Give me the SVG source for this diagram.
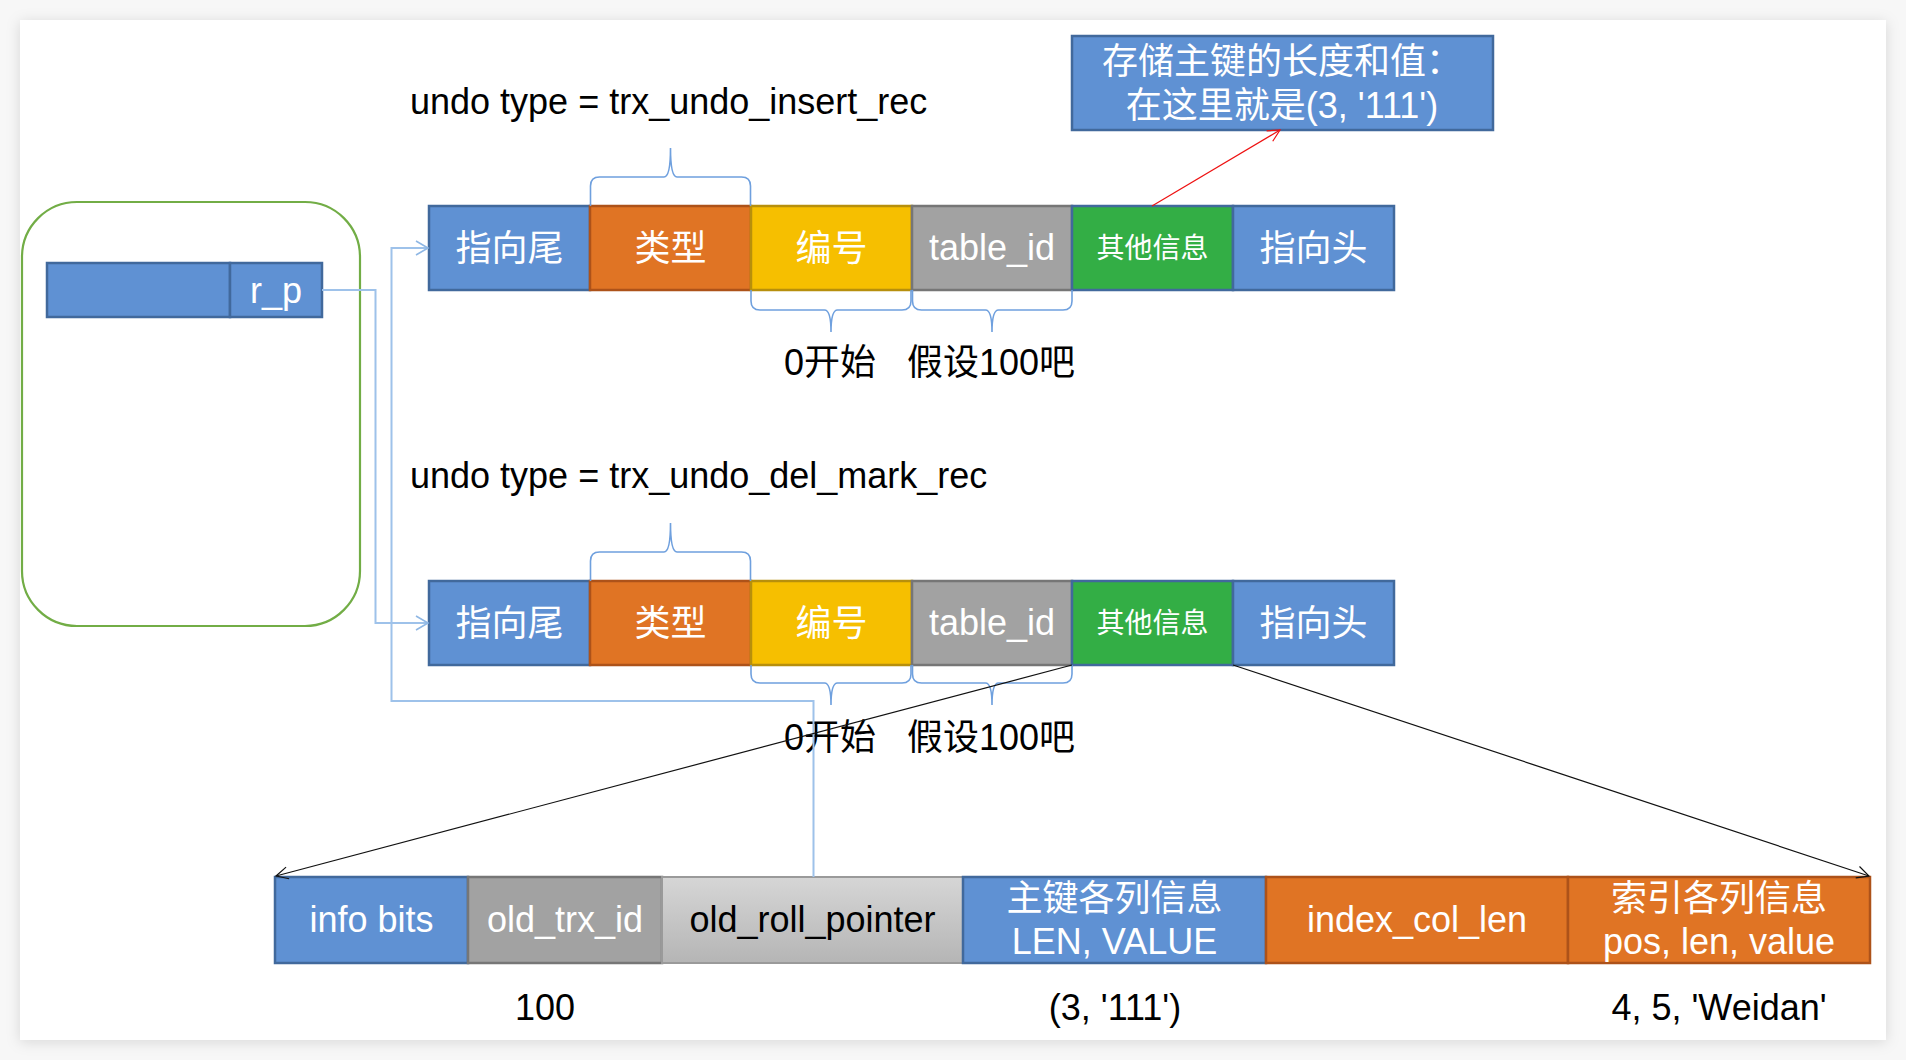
<svg xmlns="http://www.w3.org/2000/svg" width="1906" height="1060" viewBox="0 0 1906 1060">
<defs>
<filter id="shadow" x="-5%" y="-5%" width="110%" height="110%">
<feDropShadow dx="0" dy="2" stdDeviation="7" flood-color="#000" flood-opacity="0.13"/>
</filter>
<linearGradient id="grayGrad" x1="0" y1="0" x2="0" y2="1">
<stop offset="0" stop-color="#d6d6d6"/>
<stop offset="1" stop-color="#b5b5b5"/>
</linearGradient>
<marker id="arrBlue" markerUnits="userSpaceOnUse" markerWidth="16" markerHeight="16" refX="13" refY="8" orient="auto">
<path d="M1,1 L13,8 L1,15" fill="none" stroke="#8fb7e4" stroke-width="1.6"/>
</marker>
<marker id="arrRed" markerUnits="userSpaceOnUse" markerWidth="16" markerHeight="16" refX="13" refY="8" orient="auto">
<path d="M1,2 L13,8 L1,14" fill="none" stroke="#ee1111" stroke-width="1.2"/>
</marker>
<marker id="arrBlack" markerUnits="userSpaceOnUse" markerWidth="16" markerHeight="16" refX="13" refY="8" orient="auto">
<path d="M1,2 L13,8 L1,14" fill="none" stroke="#111" stroke-width="1.2"/>
</marker>
<style>
text{font-family:"Liberation Sans","Noto Sans CJK SC",sans-serif;}
.w{fill:#ffffff;font-size:36px;text-anchor:middle;}
.ws{fill:#ffffff;font-size:28px;text-anchor:middle;}
.k{fill:#000000;font-size:36px;}
.kc{fill:#000000;font-size:36px;text-anchor:middle;}
.blue{fill:#5f91d3;stroke:#41699c;stroke-width:2.5;}
.orange{fill:#e07424;stroke:#ad5219;stroke-width:2.5;}
.yellow{fill:#f6bf00;stroke:#b78f0c;stroke-width:2.5;}
.gray{fill:#a2a2a2;stroke:#767676;stroke-width:2.5;}
.green{fill:#33ae45;stroke:#41699c;stroke-width:2.5;}
.lgray{fill:url(#grayGrad);stroke:#9a9a9a;stroke-width:2;}
.brace{fill:none;stroke:#6fa0de;stroke-width:1.6;}
.conn{fill:none;stroke:#9ec2ea;stroke-width:2;}
</style>
</defs>
<rect x="0" y="0" width="1906" height="1060" fill="#f7f7f7"/>
<rect x="20" y="20" width="1866" height="1020" fill="#ffffff" filter="url(#shadow)"/>

<g id="container">
<rect x="22" y="202" width="338" height="424" rx="55" ry="55" fill="none" stroke="#72ad46" stroke-width="2.2"/>
</g>
<g id="rp-bar">
<rect class="blue" x="47" y="263" width="183" height="54"/>
<rect class="blue" x="230" y="263" width="92" height="54"/>
<text class="w" x="276" y="303">r_p</text>
</g>

<g id="row1-title"><text class="k" x="410" y="114">undo type = trx_undo_insert_rec</text></g>
<g id="row1">
<rect class="blue" x="429" y="206" width="161" height="84"/>
<rect class="orange" x="590" y="206" width="161" height="84"/>
<rect class="yellow" x="751" y="206" width="161" height="84"/>
<rect class="gray" x="912" y="206" width="160" height="84"/>
<rect class="green" x="1072" y="206" width="161" height="84"/>
<rect class="blue" x="1233" y="206" width="161" height="84"/>
<text class="w" x="509.5" y="261">指向尾</text>
<text class="w" x="670.5" y="261">类型</text>
<text class="w" x="831.5" y="261">编号</text>
<text class="w" x="992" y="260">table_id</text>
<text class="ws" x="1152.5" y="258">其他信息</text>
<text class="w" x="1313.5" y="261">指向头</text>
</g>
<g id="row1-braces">
<path class="brace" d="M590.5,206 L590.5,186 Q590.5,177 599.5,177 L664,177 Q670.5,177 670.5,148 Q670.5,177 677,177 L741.5,177 Q750.5,177 750.5,186 L750.5,206"/>
<path class="brace" d="M751,290 L751,301 Q751,310 760,310 L824.5,310 Q831,310 831,332 Q831,310 837.5,310 L902,310 Q911,310 911,301 L911,290"/>
<path class="brace" d="M912.5,290 L912.5,301 Q912.5,310 921.5,310 L985.5,310 Q992,310 992,332 Q992,310 998.5,310 L1063,310 Q1072,310 1072,301 L1072,290"/>
</g>
<g id="row1-labels">
<text class="kc" x="830" y="375">0开始</text>
<text class="kc" x="991" y="375">假设100吧</text>
</g>

<g id="callout">
<rect class="blue" x="1072" y="36" width="421" height="94"/>
<text class="w" x="1282" y="74">存储主键的长度和值：</text>
<text class="w" x="1282" y="118">在这里就是(3, '111')</text>
</g>

<g id="row2-title"><text class="k" x="410" y="488">undo type = trx_undo_del_mark_rec</text></g>
<g id="row2" transform="translate(0,375)">
<rect class="blue" x="429" y="206" width="161" height="84"/>
<rect class="orange" x="590" y="206" width="161" height="84"/>
<rect class="yellow" x="751" y="206" width="161" height="84"/>
<rect class="gray" x="912" y="206" width="160" height="84"/>
<rect class="green" x="1072" y="206" width="161" height="84"/>
<rect class="blue" x="1233" y="206" width="161" height="84"/>
<text class="w" x="509.5" y="261">指向尾</text>
<text class="w" x="670.5" y="261">类型</text>
<text class="w" x="831.5" y="261">编号</text>
<text class="w" x="992" y="260">table_id</text>
<text class="ws" x="1152.5" y="258">其他信息</text>
<text class="w" x="1313.5" y="261">指向头</text>
</g>
<g id="row2-braces" transform="translate(0,375)">
<path class="brace" d="M590.5,206 L590.5,186 Q590.5,177 599.5,177 L664,177 Q670.5,177 670.5,148 Q670.5,177 677,177 L741.5,177 Q750.5,177 750.5,186 L750.5,206"/>
<path class="brace" d="M751,290 L751,299 Q751,308 760,308 L824.5,308 Q831,308 831,330 Q831,308 837.5,308 L902,308 Q911,308 911,299 L911,290"/>
<path class="brace" d="M912.5,290 L912.5,299 Q912.5,308 921.5,308 L985.5,308 Q992,308 992,330 Q992,308 998.5,308 L1063,308 Q1072,308 1072,299 L1072,290"/>
</g>
<g id="row2-labels">
<text class="kc" x="830" y="750">0开始</text>
<text class="kc" x="991" y="750">假设100吧</text>
</g>

<g id="record">
<rect class="blue" x="275" y="877" width="193" height="86"/>
<rect class="gray" x="468" y="877" width="194" height="86"/>
<rect class="lgray" x="662" y="877" width="301" height="86"/>
<rect class="blue" x="963" y="877" width="303" height="86"/>
<rect class="orange" x="1266" y="877" width="302" height="86"/>
<rect class="orange" x="1568" y="877" width="302" height="86"/>
<text class="w" x="371.5" y="932">info bits</text>
<text class="w" x="565" y="932">old_trx_id</text>
<text class="kc" x="812.5" y="932">old_roll_pointer</text>
<text class="w" x="1114.5" y="911">主键各列信息</text>
<text class="w" x="1114.5" y="954">LEN, VALUE</text>
<text class="w" x="1417" y="932">index_col_len</text>
<text class="w" x="1719" y="911">索引各列信息</text>
<text class="w" x="1719" y="954">pos, len, value</text>
</g>
<g id="record-values">
<text class="kc" x="545" y="1020">100</text>
<text class="kc" x="1115" y="1020">(3, '111')</text>
<text class="kc" x="1719" y="1020">4, 5, 'Weidan'</text>
</g>

<g id="connectors">
<path class="conn" d="M322,290 H375.5 V623 H428" marker-end="url(#arrBlue)"/>
<path class="conn" d="M813.5,877 V701 H391.5 V248 H428" marker-end="url(#arrBlue)"/>
<path d="M1152,206 L1280,130" fill="none" stroke="#ee1111" stroke-width="1.2" marker-end="url(#arrRed)"/>
<path d="M1072,665 L276,876" fill="none" stroke="#111" stroke-width="1.2" marker-end="url(#arrBlack)"/>
<path d="M1233,665 L1869,876" fill="none" stroke="#111" stroke-width="1.2" marker-end="url(#arrBlack)"/>
</g>
</svg>
